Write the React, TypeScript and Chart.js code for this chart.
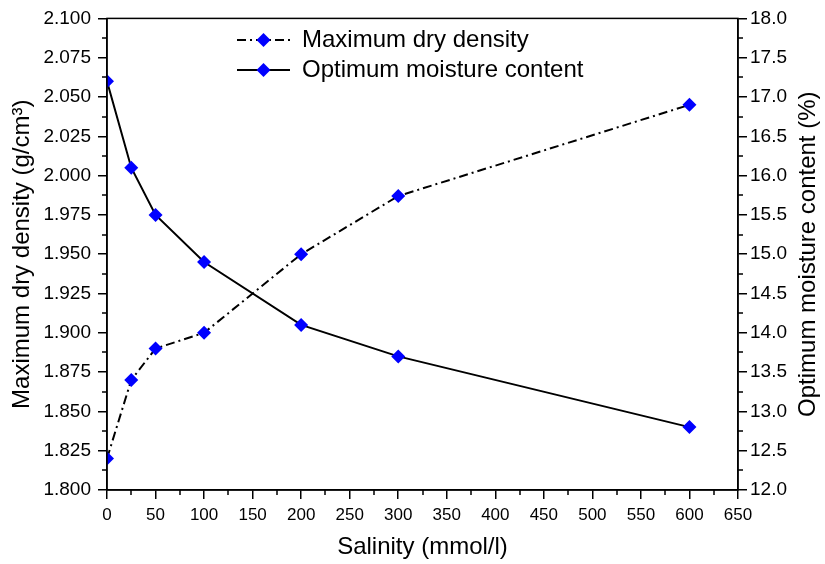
import React, { useEffect, useRef } from "react";
import { Chart, registerables } from "chart.js";

Chart.register(...registerables);

const salinity = [0, 25, 50, 100, 200, 300, 600];
const maxDryDensity = [1.82, 1.87, 1.89, 1.9, 1.95, 1.987, 2.045];
const optimumMoisture = [17.2, 16.1, 15.5, 14.9, 14.1, 13.7, 12.8];
const seriesLabels = ["Maximum dry density", "Optimum moisture content"];
const xTitle = "Salinity (mmol/l)";
const yLeftTitle = "Maximum dry density (g/cm³)";
const yRightTitle = "Optimum moisture content (%)";
const xTicks = [0, 50, 100, 150, 200, 250, 300, 350, 400, 450, 500, 550, 600, 650];
const yLeftTicks = [1.8, 1.825, 1.85, 1.875, 1.9, 1.925, 1.95, 1.975, 2.0, 2.025, 2.05, 2.075, 2.1];
const yRightTicks = [12, 12.5, 13, 13.5, 14, 14.5, 15, 15.5, 16, 16.5, 17, 17.5, 18];

const FONT = "'Liberation Sans', Arial, sans-serif";
const DASH = [9, 4, 2, 4];
const BLUE = "#0000FF";

function mids(arr: number[]) {
  const out: number[] = [];
  for (let i = 0; i < arr.length - 1; i++) out.push((arr[i] + arr[i + 1]) / 2);
  return out;
}

const clipPlugin = {
  id: "clipArea",
  beforeDatasetsDraw(chart: any) {
    const a = chart.chartArea;
    const ctx = chart.ctx as CanvasRenderingContext2D;
    ctx.save();
    ctx.beginPath();
    ctx.rect(a.left, a.top, a.right - a.left, a.bottom - a.top);
    ctx.clip();
  },
  afterDatasetsDraw(chart: any) {
    chart.ctx.restore();
  },
};

const decorPlugin = {
  id: "decor",
  afterDraw(chart: any) {
    const ctx = chart.ctx as CanvasRenderingContext2D;
    const a = chart.chartArea;
    const sx = chart.scales.x;
    const sy = chart.scales.y;
    const sy2 = chart.scales.y2;
    ctx.save();
    ctx.strokeStyle = "#000";
    ctx.lineWidth = 1.5;
    ctx.setLineDash([]);
    ctx.strokeRect(a.left, a.top, a.right - a.left, a.bottom - a.top);
    const len = 5;
    ctx.beginPath();
    mids(xTicks).forEach((v) => {
      const p = Math.round(sx.getPixelForValue(v));
      ctx.moveTo(p, a.bottom);
      ctx.lineTo(p, a.bottom + len);
    });
    mids(yLeftTicks).forEach((v) => {
      const p = Math.round(sy.getPixelForValue(v));
      ctx.moveTo(a.left, p);
      ctx.lineTo(a.left - len, p);
    });
    mids(yRightTicks).forEach((v) => {
      const p = Math.round(sy2.getPixelForValue(v));
      ctx.moveTo(a.right, p);
      ctx.lineTo(a.right + len, p);
    });
    ctx.stroke();

    // right axis title, reading bottom to top
    ctx.save();
    ctx.translate(808, (a.top + a.bottom) / 2);
    ctx.rotate(-Math.PI / 2);
    ctx.fillStyle = "#000";
    ctx.font = `24px ${FONT}`;
    ctx.textAlign = "center";
    ctx.textBaseline = "middle";
    ctx.fillText(yRightTitle, 0, 0);
    ctx.restore();

    // legend
    const rows = [
      { label: seriesLabels[0], dash: DASH, y: 40 },
      { label: seriesLabels[1], dash: [] as number[], y: 70 },
    ];
    const x0 = 237;
    const x1 = 290;
    rows.forEach((r) => {
      ctx.beginPath();
      ctx.setLineDash(r.dash);
      ctx.lineWidth = 2;
      ctx.strokeStyle = "#000";
      ctx.moveTo(x0, r.y);
      ctx.lineTo(x1, r.y);
      ctx.stroke();
      ctx.setLineDash([]);
      const cx = (x0 + x1) / 2;
      const rr = 7;
      ctx.beginPath();
      ctx.moveTo(cx, r.y - rr);
      ctx.lineTo(cx + rr, r.y);
      ctx.lineTo(cx, r.y + rr);
      ctx.lineTo(cx - rr, r.y);
      ctx.closePath();
      ctx.fillStyle = BLUE;
      ctx.fill();
      ctx.fillStyle = "#000";
      ctx.font = `24px ${FONT}`;
      ctx.textBaseline = "middle";
      ctx.textAlign = "left";
      ctx.fillText(r.label, 302, r.y);
    });
    ctx.restore();
  },
};

export default function App() {
  const ref = useRef<HTMLCanvasElement | null>(null);
  useEffect(() => {
    if (!ref.current) return;
    const setTicks = (vals: number[]) => (scale: any) => {
      scale.ticks = vals.map((v) => ({ value: v }));
    };
    const grid = {
      drawOnChartArea: false,
      drawTicks: true,
      tickLength: 9,
      color: "#000",
      lineWidth: 1.5,
    };
    const border = { display: true, color: "#000", width: 1.5 };
    const chart = new Chart(ref.current, {
      type: "line",
      data: {
        datasets: [
          {
            label: seriesLabels[0],
            data: salinity.map((s, i) => ({ x: s, y: maxDryDensity[i] })),
            yAxisID: "y",
            borderColor: "#000",
            borderWidth: 2,
            borderDash: DASH,
            pointStyle: "rectRot",
            pointRadius: 7,
            pointBackgroundColor: BLUE,
            pointBorderColor: BLUE,
            pointBorderWidth: 0,
            tension: 0,
            clip: 0,
          } as any,
          {
            label: seriesLabels[1],
            data: salinity.map((s, i) => ({ x: s, y: optimumMoisture[i] })),
            yAxisID: "y2",
            borderColor: "#000",
            borderWidth: 2,
            pointStyle: "rectRot",
            pointRadius: 7,
            pointBackgroundColor: BLUE,
            pointBorderColor: BLUE,
            pointBorderWidth: 0,
            tension: 0,
            clip: 0,
          } as any,
        ],
      },
      options: {
        animation: false,
        responsive: false,
        layout: { padding: { top: 17, left: 0, right: 0, bottom: 0 } },
        plugins: { legend: { display: false }, tooltip: { enabled: false } },
        scales: {
          x: {
            type: "linear",
            position: "bottom",
            min: 0,
            max: 650,
            afterBuildTicks: setTicks(xTicks),
            afterFit: (s: any) => {
              s.height = 74;
            },
            grid,
            border,
            ticks: {
              color: "#000",
              font: { family: FONT, size: 17 },
              padding: 6,
              maxRotation: 0,
              autoSkip: false,
              callback: (v: any) => String(v),
            },
            title: {
              display: true,
              text: xTitle,
              color: "#000",
              font: { family: FONT, size: 24 },
              padding: { top: 0, bottom: 2 },
            },
          },
          y: {
            type: "linear",
            position: "left",
            min: 1.8,
            max: 2.1,
            afterBuildTicks: setTicks(yLeftTicks),
            afterFit: (s: any) => {
              s.width = 107;
            },
            grid,
            border,
            ticks: {
              color: "#000",
              font: { family: FONT, size: 19 },
              padding: 7,
              autoSkip: false,
              callback: (v: any) => Number(v).toFixed(3),
            },
            title: {
              display: true,
              text: yLeftTitle,
              color: "#000",
              font: { family: FONT, size: 24 },
              padding: { top: 8, bottom: 0 },
            },
          },
          y2: {
            type: "linear",
            position: "right",
            min: 12,
            max: 18,
            afterBuildTicks: setTicks(yRightTicks),
            afterFit: (s: any) => {
              s.width = 87;
            },
            grid,
            border,
            ticks: {
              color: "#000",
              font: { family: FONT, size: 19 },
              padding: 3,
              autoSkip: false,
              callback: (v: any) => Number(v).toFixed(1),
            },
            title: { display: false },
          },
        },
      },
      plugins: [clipPlugin, decorPlugin],
    } as any);
    return () => chart.destroy();
  }, []);
  return (
    <div style={{ position: "absolute", left: 0, top: 0, width: 825, height: 564, background: "#fff" }}>
      <canvas ref={ref} width={825} height={564} style={{ width: 825, height: 564 }} />
    </div>
  );
}
